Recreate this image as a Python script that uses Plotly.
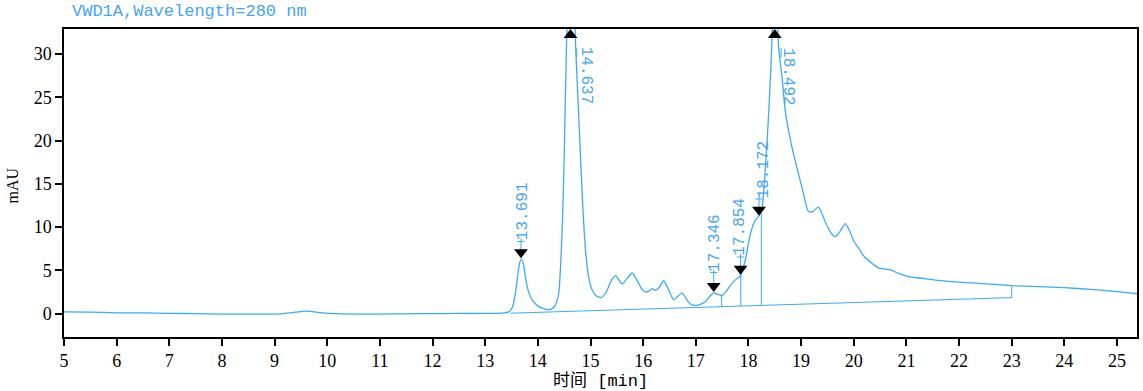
import numpy as np
import plotly.graph_objects as go

# ---- data ----
time_min = [5.0, 5.5, 6.0, 6.5, 7.0, 7.5, 8.0, 8.5, 9.0, 9.3, 9.6, 9.9, 10.2, 10.6, 11.0, 11.5, 12.0, 12.5, 13.0, 13.3,
            13.45, 13.52, 13.57, 13.62, 13.66, 13.69, 13.73, 13.77, 13.82, 13.9, 14.0, 14.1, 14.2, 14.3, 14.36, 14.4,
            14.44, 14.47, 14.5, 14.54, 14.58, 14.63, 14.68, 14.72, 14.78, 14.85, 14.91, 14.96, 15.02, 15.1, 15.2, 15.3,
            15.4, 15.48, 15.55, 15.6, 15.7, 15.79, 15.88, 15.98, 16.05, 16.11, 16.17, 16.23, 16.3, 16.39, 16.48, 16.58,
            16.66, 16.74, 16.82, 16.9, 17.0, 17.1, 17.2, 17.28, 17.34, 17.42, 17.5, 17.58, 17.66, 17.75, 17.85, 17.94,
            18.04, 18.13, 18.2, 18.26, 18.3, 18.35, 18.4, 18.45, 18.49, 18.53, 18.57, 18.64, 18.70, 18.79, 18.89, 19.02,
            19.14, 19.22, 19.33, 19.46, 19.56, 19.65, 19.75, 19.84, 19.92, 20.0, 20.09, 20.2, 20.35, 20.47, 20.6, 20.7,
            20.85, 21.0, 21.2, 21.4, 21.6, 22.0, 22.5, 23.0, 23.5, 24.0, 24.5, 25.0, 25.38]
signal_mau = [0.2, 0.18, 0.1, 0.08, 0.03, 0.0, -0.05, -0.06, -0.05, 0.1, 0.3, 0.1, 0.0, -0.05, -0.05, -0.02, 0.0, 0.02, 0.02, 0.05,
              0.2, 0.8, 2.2, 4.5, 6.0, 6.3, 5.6, 4.0, 2.6, 1.5, 0.9, 0.6, 0.45, 0.7, 1.4, 2.5,
              6.5, 11.0, 18.0, 30.0, 38.0, 41.0, 38.0, 30.5, 22.4, 12.8, 7.0, 4.4, 2.9, 2.1, 1.85, 2.5,
              3.9, 4.4, 3.8, 3.4, 4.1, 4.7, 3.9, 2.8, 2.5, 2.6, 2.9, 2.7, 3.0, 3.8, 2.8, 1.6,
              2.0, 2.4, 1.7, 1.1, 0.95, 1.1, 1.5, 2.1, 2.4, 2.2, 2.1, 2.6, 3.3, 3.9, 4.4, 6.2,
              9.3, 10.8, 11.3, 12.2, 15.0, 19.5, 25.0, 32.0, 41.0, 38.0, 31.0, 27.2, 23.4, 20.3, 17.6, 14.5,
              11.8, 11.8, 12.3, 10.6, 9.4, 8.9, 9.6, 10.4, 9.6, 8.4, 7.6, 6.6, 5.8, 5.3, 5.15, 5.05,
              4.65, 4.35, 4.15, 4.0, 3.85, 3.65, 3.45, 3.24, 3.12, 3.0, 2.8, 2.55, 2.3]

# integration baseline
baseline_time = [13.48, 23.0, 23.0]
baseline_mau = [0.05, 1.85, 3.24]

# drop lines between peaks
drop_time = [17.49, 17.854, 18.245]
drop_top_mau = [2.1, 5.0, 12.3]

# peak annotations
peak_labels = ["13.691", "14.637", "17.346", "17.854", "18.172", "18.492"]
marker_time = [13.68, 14.62, 17.34, 17.85, 18.20, 18.50]
marker_mau = [7.1, 32.2, 3.2, 5.2, 12.0, 32.2]
marker_dir = ["down", "up", "down", "down", "down", "up"]
label_time = [13.71, 14.915, 17.35, 17.85, 18.30, 18.74]
label_mau = [11.8, 27.5, 8.2, 10.0, 16.7, 27.3]
label_angle = [-90, 90, -90, -90, -90, 90]

x_ticks = list(range(5, 26))
y_ticks = [0, 5, 10, 15, 20, 25, 30]

BLUE = "rgb(60,170,250)"
TXT_BLUE = "rgb(70,165,240)"
SERIF = "Liberation Serif"

fig = go.Figure()

fig.add_trace(go.Scatter(x=time_min, y=signal_mau, mode="lines",
                         line=dict(color=BLUE, width=1.3, shape="spline", smoothing=0.6),
                         hoverinfo="skip", showlegend=False))

fig.add_trace(go.Scatter(x=baseline_time, y=baseline_mau, mode="lines",
                         line=dict(color=BLUE, width=1), hoverinfo="skip", showlegend=False))

bl_at_drop = np.interp(drop_time, baseline_time[:2], baseline_mau[:2])
dx, dy = [], []
for t, b, top in zip(drop_time, bl_at_drop, drop_top_mau):
    dx += [t, t, None]
    dy += [b, top, None]
fig.add_trace(go.Scatter(x=dx, y=dy, mode="lines", line=dict(color=BLUE, width=1),
                         hoverinfo="skip", showlegend=False))

# label tick segments
tx, ty = [], []
for mt, my, lt, ly, d in zip(marker_time, marker_mau, label_time, label_mau, marker_dir):
    if d == "down":
        bottom = ly - 3.1
        tx += [mt, mt, None, mt - 0.07, mt + 0.07, None]
        ty += [my, bottom, None, bottom - 0.35, bottom - 0.35, None]
    else:
        tx += [mt + 0.12, mt + 0.12, None]
        ty += [my - 1.5, my - 2.6, None]
fig.add_trace(go.Scatter(x=tx, y=ty, mode="lines", line=dict(color=BLUE, width=1),
                         hoverinfo="skip", showlegend=False, cliponaxis=False))

fig.add_trace(go.Scatter(x=marker_time, y=marker_mau, mode="markers",
                         marker=dict(symbol=["triangle-" + d for d in marker_dir], size=12, color="black",
                                     line=dict(width=0)),
                         hoverinfo="skip", showlegend=False, cliponaxis=False))

for lab, lt, ly, ang in zip(peak_labels, label_time, label_mau, label_angle):
    fig.add_annotation(x=lt, y=ly, xref="x", yref="y", text=lab, showarrow=False, textangle=ang,
                       font=dict(family="Liberation Mono", size=16, color=TXT_BLUE),
                       xanchor="center", yanchor="middle")

axis_common = dict(showline=True, linecolor="black", linewidth=1.5, mirror=True,
                   ticks="outside", tickcolor="black", tickwidth=1.5, showgrid=False, zeroline=False)

fig.update_xaxes(range=[5, 25.38], tickvals=x_ticks, ticklen=7, **axis_common)
fig.update_yaxes(range=[-2.7, 32.9], tickvals=y_ticks, ticklen=7, **axis_common)
fig.update_xaxes(tickfont_family=SERIF, tickfont_size=18, tickfont_color="black")
fig.update_yaxes(tickfont_family=SERIF, tickfont_size=18, tickfont_color="black")

fig.add_annotation(xref="paper", yref="paper", x=0.5, y=-0.143, text="时间 [min]", showarrow=False,
                   font=dict(family="Liberation Mono, Noto Sans CJK SC", size=17, color="black"),
                   xanchor="center", yanchor="middle")
fig.add_annotation(xref="paper", yref="paper", x=-0.048, y=0.4935, text="mAU", showarrow=False, textangle=-90,
                   font=dict(family=SERIF, size=16, color="black"),
                   xanchor="center", yanchor="middle")

fig.update_layout(
    width=1143, height=391,
    margin=dict(l=64, r=4, t=29, b=54),
    paper_bgcolor="white", plot_bgcolor="white",
    font=dict(family=SERIF, size=18, color="black"),
    title=dict(text="VWD1A,Wavelength=280 nm", x=72 / 1143, xanchor="left", y=1 - 10 / 391, yanchor="middle",
               font=dict(family="Liberation Mono", size=17, color=TXT_BLUE)),
)

fig.write_html("out.html")
